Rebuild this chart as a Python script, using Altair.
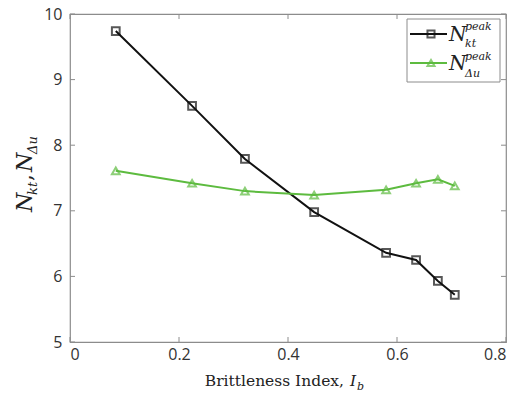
import altair as alt
import pandas as pd

# ---- data ----
ib = [0.084, 0.224, 0.321, 0.448, 0.580, 0.635, 0.675, 0.706]
n_kt = [9.74, 8.60, 7.79, 6.98, 6.36, 6.25, 5.93, 5.72]
n_du = [7.61, 7.42, 7.30, 7.24, 7.32, 7.42, 7.48, 7.38]
series_names = ["N_kt_peak", "N_du_peak"]
series_colors = ["#111111", "#5DBB3F"]
series_shapes = ["square", "triangle-up"]

x_ticks = [0, 0.2, 0.4, 0.6, 0.8]
y_ticks = [5, 6, 7, 8, 9, 10]

W, H = 436, 328
AX = "#8c8c8c"
SERIF = "DejaVu Serif"

df = pd.DataFrame({
    "x": ib + ib,
    "y": n_kt + n_du,
    "s": [series_names[0]] * len(ib) + [series_names[1]] * len(ib),
})
xt = pd.DataFrame({"x": x_ticks})
yt = pd.DataFrame({"y": y_ticks})
one = pd.DataFrame({"a": [0]})

xs = alt.Scale(domain=[0, 0.8], nice=False, zero=False)
ys = alt.Scale(domain=[5, 10], nice=False, zero=False)
cs = alt.Scale(domain=series_names, range=series_colors)
ss = alt.Scale(domain=series_names, range=series_shapes)

xaxis = alt.Axis(values=x_ticks, labelExpr="'' + datum.value", ticks=False, domain=False,
                 grid=False, title=None, labelFont="Open Sans", labelFontSize=16,
                 labelColor="#333333", labelPadding=4)
yaxis = alt.Axis(values=y_ticks, labelExpr="'' + datum.value", ticks=False, domain=False,
                 grid=False, title=None, labelFont="Open Sans", labelFontSize=16,
                 labelColor="#333333", labelPadding=8)

base = alt.Chart(df)
lines = base.mark_line(strokeWidth=2).encode(
    x=alt.X("x:Q", scale=xs, axis=xaxis),
    y=alt.Y("y:Q", scale=ys, axis=yaxis),
    color=alt.Color("s:N", scale=cs, legend=None),
    detail="s:N",
)
points = base.mark_point(filled=False, strokeWidth=2, size=60).encode(
    x="x:Q", y="y:Q",
    color=alt.Color("s:N", scale=cs, legend=None),
    shape=alt.Shape("s:N", scale=ss, legend=None),
)

# inward ticks on all four sides
tb = alt.Chart(xt).mark_rule(color=AX, strokeWidth=1).encode(x="x:Q", y=alt.value(H), y2=alt.value(H - 5))
tt = alt.Chart(xt).mark_rule(color=AX, strokeWidth=1).encode(x="x:Q", y=alt.value(0), y2=alt.value(5))
tl = alt.Chart(yt).mark_rule(color=AX, strokeWidth=1).encode(y="y:Q", x=alt.value(0), x2=alt.value(5))
tr = alt.Chart(yt).mark_rule(color=AX, strokeWidth=1).encode(y="y:Q", x=alt.value(W), x2=alt.value(W - 5))


def txt(s, x, y, size, italic=True, angle=0, align="left", color="#222222"):
    return alt.Chart(one).mark_text(
        text=s, font=SERIF, fontSize=size, fontStyle="italic" if italic else "normal",
        align=align, baseline="alphabetic", angle=angle, color=color,
    ).encode(x=alt.value(x), y=alt.value(y))


# x-axis title
xtitle = [
    txt("Brittleness Index,", 274, 372, 15.5, italic=False, align="right"),
    txt("I", 280, 372, 15.5),
    txt("b", 287, 376, 11),
]
# y-axis title (rotated)
ytitle = [
    txt("N", -38, 198, 22, angle=270),
    txt("kt", -33, 181, 13, angle=270),
    txt(",", -38, 167, 22, italic=False, angle=270),
    txt("N", -38, 158, 22, angle=270),
    txt("Δu", -33, 140, 13, angle=270),
]

# legend box
lbox = alt.Chart(one).mark_rect(fill="white", stroke=AX, strokeWidth=1).encode(
    x=alt.value(337), x2=alt.value(430), y=alt.value(5), y2=alt.value(68))
leg = [lbox]
for i, (c, sh) in enumerate(zip(series_colors, series_shapes)):
    yy = 20 + i * 29
    leg.append(alt.Chart(one).mark_rule(color=c, strokeWidth=2).encode(
        x=alt.value(340), x2=alt.value(377), y=alt.value(yy)))
    leg.append(alt.Chart(one).mark_point(shape=sh, filled=False, strokeWidth=2, size=50, color=c).encode(
        x=alt.value(361), y=alt.value(yy)))
leg += [
    txt("N", 379, 27, 20),
    txt("peak", 395, 16, 11),
    txt("kt", 395, 33, 11),
    txt("N", 379, 56, 20),
    txt("peak", 395, 46, 11),
    txt("Δu", 395, 63, 11),
]

chart = alt.layer(tb, tt, tl, tr, lines, points, *xtitle, *ytitle, *leg).properties(
    width=W, height=H,
    autosize=alt.AutoSizeParams(type="none"),
    padding={"left": 62, "top": 6, "right": 15, "bottom": 54},
).configure_view(stroke=AX, strokeWidth=1.2)

chart.save("out.html", embed_options={"renderer": "svg", "actions": False})
